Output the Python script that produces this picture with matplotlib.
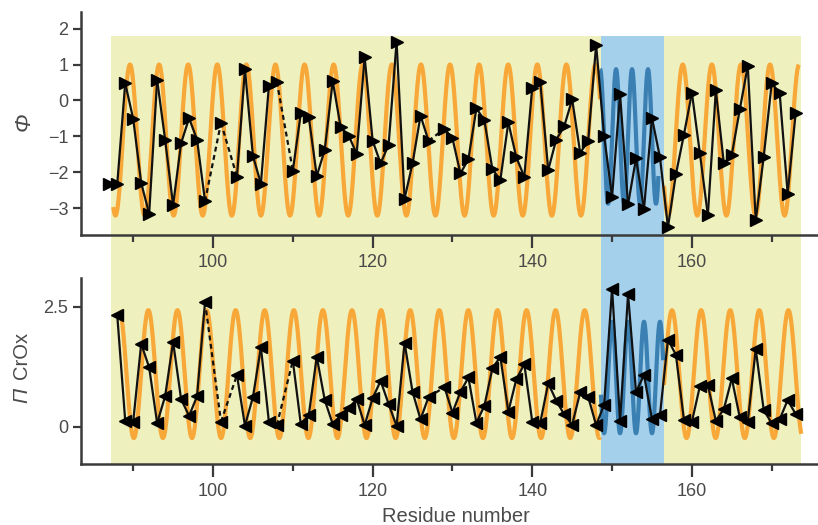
import numpy as np
import matplotlib
matplotlib.use("Agg")
import matplotlib.pyplot as plt
from matplotlib.patches import Rectangle

plt.rcParams['font.family'] = ['Liberation Sans', 'DejaVu Sans']

# ---------------- data ----------------
top_res = [87, 88, 89, 90, 91, 92, 93, 94, 95, 96, 97, 98, 99, 101, 103, 104, 105, 106, 107, 108,
           110, 111, 112, 113, 114, 115, 116, 117, 118, 119, 120, 121, 122, 123, 124, 125, 126, 127,
           129, 130, 131, 132, 133, 134, 135, 136, 137, 138, 139, 140, 141, 142, 143, 144, 145, 146,
           147, 148, 149, 150, 151, 152, 153, 154, 155, 156, 157, 158, 159, 160, 161, 162, 163, 164,
           165, 166, 167, 168, 169, 170, 171, 172, 173]
top_phi = [-2.31, -2.33, 0.48, -0.51, -2.29, -3.15, 0.57, -1.09, -2.91, -1.19, -0.49, -1.09, -2.80,
           -0.62, -2.12, 0.87, -1.54, -2.31, 0.40, 0.52,
           -1.95, -0.36, -0.46, -2.10, -1.37, 0.54, -0.75, -0.98, -1.48, 1.20, -1.12, -1.75, -1.23,
           1.63, -2.73, -1.75, -0.42, -1.12,
           -0.79, -1.05, -2.03, -1.63, -0.22, -0.55, -1.91, -2.21, -0.61, -1.58, -2.12, 0.36, 0.51,
           -1.93, -1.09, -0.72, 0.03, -1.45, -1.14, 1.54, -0.98, -2.68, 0.17, -2.89, -1.61, -3.01,
           -0.49, -1.58, -3.52, -2.05, -0.95, 0.21, -1.47, -3.19, 0.28, -1.75, -1.51, -0.25, 0.96,
           -3.33, -1.56, 0.48, 0.20, -2.59, -0.35]

bot_res = [88, 89, 90, 91, 92, 93, 94, 95, 96, 97, 98, 99, 101, 103, 104, 105, 106, 107, 108,
           110, 111, 112, 113, 114, 115, 116, 117, 118, 119, 120, 121, 122, 123, 124, 125, 126, 127,
           129, 130, 131, 132, 133, 134, 135, 136, 137, 138, 139, 140, 141, 142, 143, 144, 145, 146,
           147, 148, 149, 150, 151, 152, 153, 154, 155, 156, 157, 158, 159, 160, 161, 162, 163, 164,
           165, 166, 167, 168, 169, 170, 171, 172, 173]
bot_pi = [2.33, 0.13, 0.11, 1.73, 1.24, 0.08, 0.64, 1.77, 0.58, 0.23, 0.64, 2.60, 0.11, 1.08, 0.03,
          0.62, 1.66, 0.11, 0.04,
          1.38, 0.06, 0.25, 1.46, 0.56, 0.06, 0.25, 0.39, 0.58, 0.04, 0.60, 0.96, 0.48, 0.02, 1.75,
          0.73, 0.16, 0.62,
          0.83, 0.30, 0.73, 1.03, 0.09, 0.44, 1.22, 1.46, 0.32, 0.99, 1.31, 0.11, 0.09, 0.91, 0.55,
          0.26, 0.05, 0.72, 0.63, 0.04, 0.46, 2.88, 0.13, 2.76, 0.73, 1.08, 0.16, 0.25, 1.82, 1.50,
          0.15, 0.11, 0.85, 0.87, 0.13, 0.37, 1.01, 0.20, 0.11, 1.62, 0.35, 0.08, 0.16, 0.56, 0.27]

# model periodicity curves (helix: ~3.6 residues/turn, strand: 2 residues)
helix_period = 3.645
strand_period = 2.0
top_helix = dict(center=-1.1, amp=2.1, peak=89.6)
top_strand = dict(center=-1.0, amp=1.87, peak=150.5)
bot_helix = dict(center=1.1, amp=1.33, peak=91.9)
bot_strand = dict(center=1.03, amp=1.16, peak=150.0)
helix_ranges_top = [(87.5, 148.5), (156.5, 173.4)]
strand_range_top = (148.5, 155.8)
helix_ranges_bot = [(88.3, 148.5), (156.5, 173.7)]
strand_range_bot = (148.6, 156.4)

region_all = (87.25, 173.7)      # yellow background
region_strand = (148.55, 156.45)  # blue background

xticks_major = [100, 120, 140, 160]
xticks_minor = [90, 110, 130, 150, 170]

# ---------------- figure ----------------
W, H = 818, 525
fig = plt.figure(figsize=(W / 100, H / 100), dpi=100)
ax1 = fig.add_axes([81 / W, 1 - 235 / H, (W - 81) / W, (235 - 12) / H])
ax2 = fig.add_axes([81 / W, 1 - 464 / H, (W - 81) / W, (464 - 278) / H])
for ax in (ax1, ax2):
    ax.set_facecolor('none')
    ax.set_xlim(83.46, 175.8)
ax1.set_ylim(-3.74, 2.46)
ax2.set_ylim(-0.77, 3.10)

YELLOW = '#eef0bd'
BLUE_BG = '#a5d0ec'
ORANGE = '#f7a838'
BLUE_LINE = '#3a80b2'
TXT = '#4a4a4a'
SPINE = '#3a3a3a'


def curve(ax, rng, p, period, color):
    r = np.linspace(rng[0], rng[1], 1500)
    y = p['center'] + p['amp'] * np.cos(2 * np.pi * (r - p['peak']) / period)
    ax.plot(r, y, color=color, lw=3.0, zorder=2, solid_capstyle='butt')


for rng in helix_ranges_top:
    curve(ax1, rng, top_helix, helix_period, ORANGE)
curve(ax1, strand_range_top, top_strand, strand_period, BLUE_LINE)
for rng in helix_ranges_bot:
    curve(ax2, rng, bot_helix, helix_period, ORANGE)
curve(ax2, strand_range_bot, bot_strand, strand_period, BLUE_LINE)


def series(ax, res, val, marker):
    for i in range(len(res) - 1):
        ls = '-' if res[i + 1] - res[i] == 1 else (0, (2.2, 1.6))
        ax.plot(res[i:i + 2], val[i:i + 2], color='#111111', lw=1.6, ls=ls, zorder=3)
    ax.plot(res, val, ls='none', marker=marker, ms=8, color='black', zorder=4)


series(ax1, top_res, top_phi, '>')
series(ax2, bot_res, bot_pi, '<')

for ax in (ax1, ax2):
    ax.spines['top'].set_visible(False)
    ax.spines['right'].set_visible(False)
    for s in ('left', 'bottom'):
        ax.spines[s].set_color(SPINE)
        ax.spines[s].set_linewidth(1.8)
    ax.set_xticks(xticks_major)
    ax.set_xticks(xticks_minor, minor=True)
    ax.tick_params(axis='x', which='major', length=9, width=1.6, color=SPINE,
                   labelsize=13, labelcolor=TXT, pad=5)
    ax.tick_params(axis='x', which='minor', length=5, width=1.6, color=SPINE)
    ax.tick_params(axis='y', which='major', length=6, width=1.6, color=SPINE,
                   labelsize=13, labelcolor=TXT, pad=3)

ax1.set_yticks([-3, -2, -1, 0, 1, 2])
ax1.set_yticklabels(['\u22123', '\u22122', '\u22121', '0', '1', '2'])
ax2.set_yticks([0, 2.5])
ax2.set_yticklabels(['0', '2.5'])

# background regions spanning both panels
fig.canvas.draw()
inv = fig.transFigure.inverted()
ytop = inv.transform(ax1.transData.transform((100, 1.79)))[1]
ybot = inv.transform(ax2.transData.transform((100, -0.77)))[1]
for (x0, x1), col in ((region_all, YELLOW), (region_strand, BLUE_BG)):
    fx0 = inv.transform(ax1.transData.transform((x0, 0)))[0]
    fx1 = inv.transform(ax1.transData.transform((x1, 0)))[0]
    fig.patches.append(Rectangle((fx0, ybot), fx1 - fx0, ytop - ybot,
                                 transform=fig.transFigure, facecolor=col,
                                 edgecolor='none', zorder=-5, figure=fig))

fig.text(24 / W, 1 - 122 / H, '\u03a6', rotation=90, ha='center', va='center',
         fontsize=16, fontstyle='italic', color=TXT)
fig.text(22 / W, 1 - 395 / H, '\u03a0', rotation=90, ha='center', va='center',
         fontsize=15, fontstyle='italic', color=TXT)
fig.text(22 / W, 1 - 355 / H, 'CrOx', rotation=90, ha='center', va='center',
         fontsize=14.5, color=TXT)
fig.text(456 / W, 1 - 516 / H, 'Residue number', ha='center', va='center',
         fontsize=14.5, color=TXT)

fig.savefig('out.png', dpi=100)
